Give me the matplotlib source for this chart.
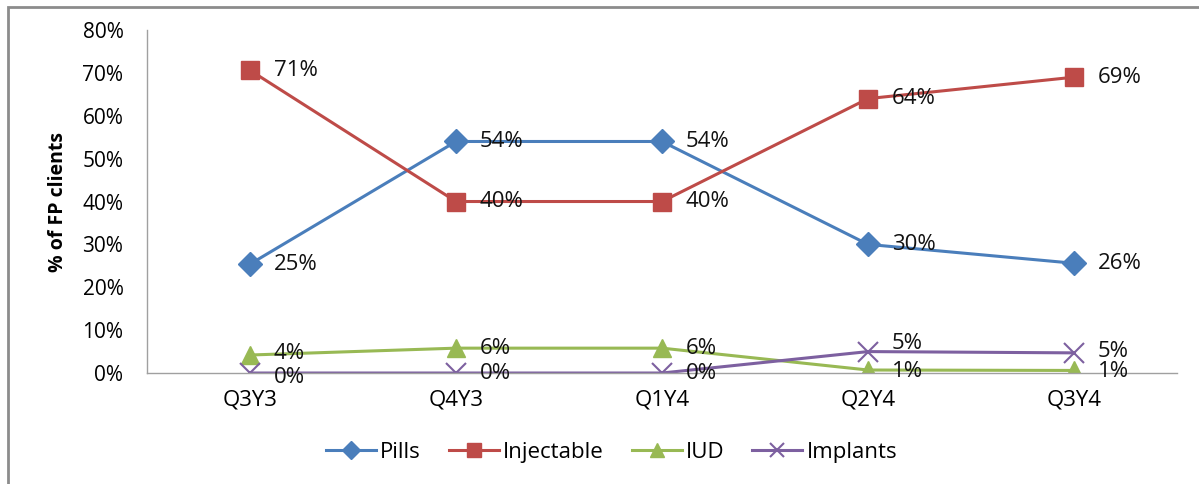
import matplotlib.pyplot as plt
from matplotlib.patches import Rectangle

plt.rcParams['font.family'] = ['Open Sans', 'DejaVu Sans']

quarters = ["Q3Y3", "Q4Y3", "Q1Y4", "Q2Y4", "Q3Y4"]
pills = [25.4, 54.0, 54.0, 30.0, 25.6]
injectable = [70.6, 40.0, 40.0, 64.0, 69.0]
iud = [4.2, 5.8, 5.8, 0.7, 0.6]
implants = [0.0, 0.0, 0.0, 5.0, 4.7]
pills_lbl = ["25%", "54%", "54%", "30%", "26%"]
injectable_lbl = ["71%", "40%", "40%", "64%", "69%"]
iud_lbl = ["4%", "6%", "6%", "1%", "1%"]
implants_lbl = ["0%", "0%", "0%", "5%", "5%"]

series = [
    ("Pills", pills, pills_lbl, "#4A7EBB", "D", 12),
    ("Injectable", injectable, injectable_lbl, "#BE4B48", "s", 13),
    ("IUD", iud, iud_lbl, "#98B954", "^", 13),
    ("Implants", implants, implants_lbl, "#7D60A0", "x", 14),
]

# small vertical nudges (points) for crowded data labels, as in the original
nudge = {("Implants", 3): 6, ("IUD", 0): 1, ("Implants", 0): -3,
         ("IUD", 4): -1, ("IUD", 3): -1, ("Implants", 4): 1}

FS = 16

fig = plt.figure(figsize=(11.99, 4.84), dpi=100)
ax = fig.add_axes([0.1226, 0.2293, 0.8591, 0.7087])

x = list(range(len(quarters)))
for name, vals, lbls, color, marker, ms in series:
    kw = dict(markeredgewidth=1.5) if marker == "x" else dict(markeredgecolor=color)
    ax.plot(x, vals, color=color, lw=2.2, marker=marker, markersize=ms,
            label=name, **kw)
    for i, (xi, v, t) in enumerate(zip(x, vals, lbls)):
        ax.annotate(t, (xi, v), xytext=(17, nudge.get((name, i), 0)),
                    textcoords="offset points", ha="left", va="center",
                    fontsize=FS, color="#111111")

ax.set_xlim(-0.5, len(quarters) - 0.5)
ax.set_ylim(0, 80)
ax.set_yticks(range(0, 81, 10))
ax.set_yticklabels([f"{v}%" for v in range(0, 81, 10)], fontsize=15)
ax.set_xticks(x)
ax.set_xticklabels(quarters, fontsize=FS)
ax.tick_params(length=0, pad=17)
ax.tick_params(axis="x", pad=12)
for s in ["top", "right"]:
    ax.spines[s].set_visible(False)
for s in ["left", "bottom"]:
    ax.spines[s].set_color("#A0A0A0")
    ax.spines[s].set_linewidth(1)
ax.set_ylabel("% of FP clients", fontsize=14, fontweight="bold", labelpad=10)

ax.legend(loc="center", bbox_to_anchor=(0.51, 0.066), bbox_transform=fig.transFigure,
          ncol=4, frameon=False, fontsize=FS, handlelength=2.25, markerscale=0.75,
          handletextpad=0.2, columnspacing=1.25)

fig.patches.append(Rectangle((8 / 1199, -0.1), 1.2, 1 - 7 / 484 + 0.1,
                             transform=fig.transFigure, fill=False,
                             edgecolor="#8C8C8C", lw=2, clip_on=False))

fig.savefig("out.png", dpi=100)
